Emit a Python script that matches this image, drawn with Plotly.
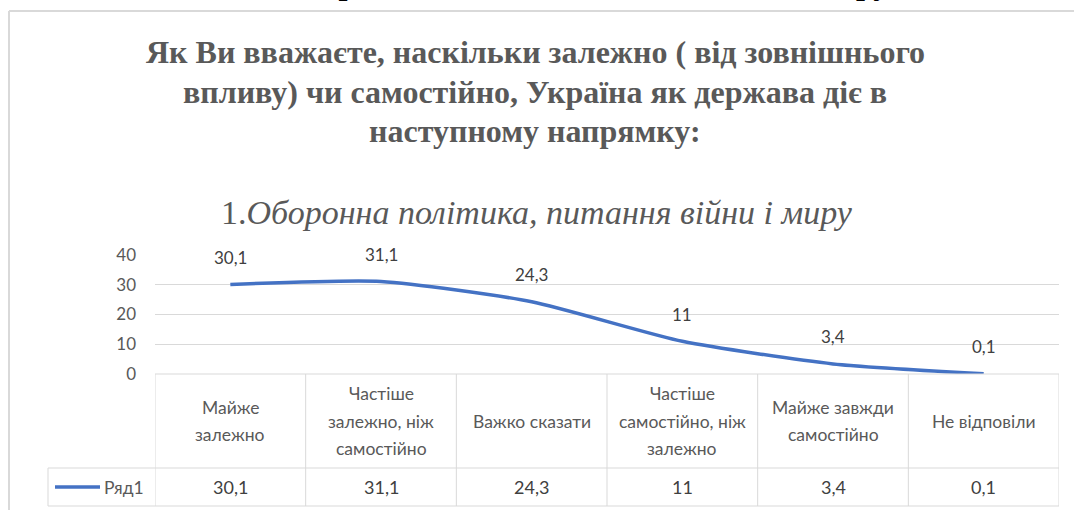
import plotly.graph_objects as go

# ---- data ----
categories = ["Майже\nзалежно", "Частіше\nзалежно, ніж\nсамостійно", "Важко сказати",
              "Частіше\nсамостійно, ніж\nзалежно", "Майже завжди\nсамостійно", "Не відповіли"]
values = [30.1, 31.1, 24.3, 11, 3.4, 0.1]
series_name = "Ряд1"
y_ticks = [0, 10, 20, 30, 40]
title_lines = ["Як Ви вважаєте, наскільки залежно ( від зовнішнього",
               "впливу) чи самостійно, Україна як держава діє в",
               "наступному напрямку:"]
subtitle_num = "1."
subtitle_text = "Оборонна політика, питання війни і миру"
cut_heading = "Оборонна політика, питання війни і миру"

# ---- geometry helpers (pixel -> paper) ----
W, H = 1074, 510
PL, PR, PT, PB = 155, 1059, 255, 374
def px(X):
    return (X - PL) / (PR - PL)
def py(Y):
    return (PB - Y) / (PB - PT)

def fmt(v):
    s = ("%g" % v)
    return s.replace(".", ",")

BLUE = "#4472C4"
GRID = "#d9d9d9"
TXT = "#595959"
SANS = "Lato, 'Open Sans', sans-serif"
SERIF = "'Liberation Serif', 'Times New Roman', serif"

n = len(categories)
xs = list(range(n))

fig = go.Figure()
fig.add_trace(go.Scatter(x=xs, y=values, mode="lines",
                         line=dict(color=BLUE, width=3.5, shape="spline", smoothing=0.6),
                         name=series_name, showlegend=False, hoverinfo="skip"))

annotations = []
shapes = []

# data labels
for i, v in enumerate(values):
    annotations.append(dict(x=i, y=v, xref="x", yref="y", text=fmt(v), showarrow=False,
                            yshift=27, font=dict(family=SANS, size=17, color="#404040")))

# title lines
title_y = [52, 92, 131]
for t, Y in zip(title_lines, title_y):
    annotations.append(dict(x=px(535), y=py(Y), xref="paper", yref="paper", text="<b>%s</b>" % t,
                            showarrow=False, xanchor="center", yanchor="middle",
                            font=dict(family=SERIF, size=32, color=TXT)))
# subtitle
annotations.append(dict(x=px(537), y=py(212), xref="paper", yref="paper",
                        text="%s<i>%s</i>" % (subtitle_num, subtitle_text),
                        showarrow=False, xanchor="center", yanchor="middle",
                        font=dict(family=SERIF, size=34, color=TXT)))
# cut heading at very top (mostly outside the page)
annotations.append(dict(x=px(585), y=py(3), xref="paper", yref="paper",
                        text="<b>%s</b>" % cut_heading, showarrow=False,
                        xanchor="center", yanchor="bottom",
                        font=dict(family=SERIF, size=32, color="#000000")))

# ---- data table ----
HDR_T, HDR_B, ROW_B = 374, 468, 506
LEG_L = 48
line_style = dict(color=GRID, width=1)
shapes.append(dict(type="line", xref="x", yref="paper", x0=-0.5, x1=n - 0.5,
                   y0=py(HDR_T), y1=py(HDR_T), line=line_style))
for Y in (HDR_B, ROW_B):
    shapes.append(dict(type="line", xref="paper", yref="paper", x0=px(LEG_L), x1=1,
                       y0=py(Y), y1=py(Y), line=line_style))
for i in range(n + 1):
    shapes.append(dict(type="line", xref="x", yref="paper", x0=i - 0.5, x1=i - 0.5,
                       y0=py(HDR_T), y1=py(ROW_B), line=line_style))
shapes.append(dict(type="line", xref="paper", yref="paper", x0=px(LEG_L), x1=px(LEG_L),
                   y0=py(HDR_B), y1=py(ROW_B), line=line_style))

# category header text (line by line)
row_mid = (HDR_T + HDR_B) / 2
LS = 27.5
for i, c in enumerate(categories):
    parts = c.split("\n")
    k = len(parts)
    for j, p in enumerate(parts):
        Y = row_mid + (j - (k - 1) / 2) * LS
        annotations.append(dict(x=i, y=py(Y), xref="x", yref="paper", text=p, showarrow=False,
                                xanchor="center", yanchor="middle",
                                font=dict(family=SANS, size=17.5, color=TXT)))
# values row
val_mid = (HDR_B + ROW_B) / 2
for i, v in enumerate(values):
    annotations.append(dict(x=i, y=py(val_mid), xref="x", yref="paper", text=fmt(v),
                            showarrow=False, xanchor="center", yanchor="middle",
                            font=dict(family=SANS, size=18, color="#404040")))
# legend key in table
shapes.append(dict(type="line", xref="paper", yref="paper", x0=px(55), x1=px(100),
                   y0=py(val_mid), y1=py(val_mid), line=dict(color=BLUE, width=3.5)))
annotations.append(dict(x=px(102), y=py(val_mid), xref="paper", yref="paper", text=series_name,
                        showarrow=False, xanchor="left", yanchor="middle",
                        font=dict(family=SANS, size=17.5, color=TXT)))

# outer chart border (top and left edges; the rest is off-page)
border = dict(color=GRID, width=2)
shapes.append(dict(type="line", xref="paper", yref="paper", x0=px(9), x1=px(1100),
                   y0=py(11), y1=py(11), line=border, layer="below"))
shapes.append(dict(type="line", xref="paper", yref="paper", x0=px(9), x1=px(9),
                   y0=py(11), y1=py(530), line=border, layer="below"))

fig.update_layout(
    width=W, height=H,
    margin=dict(l=PL, r=W - PR, t=PT, b=H - PB, pad=0),
    paper_bgcolor="white", plot_bgcolor="white",
    showlegend=False,
    xaxis=dict(range=[-0.5, n - 0.5], showgrid=False, zeroline=False, showticklabels=False,
               showline=False, fixedrange=True),
    yaxis=dict(range=[0, 40], tickvals=y_ticks, showgrid=True, gridcolor=GRID, gridwidth=1,
               zeroline=False, showline=False, ticks="", ticklabelstandoff=18,
               tickfont=dict(family=SANS, size=17, color=TXT), fixedrange=True),
    annotations=annotations, shapes=shapes,
)

fig.write_html("out.html", config={"displayModeBar": False},
               post_script="document.body.style.margin='0';document.body.style.overflow='hidden';")
